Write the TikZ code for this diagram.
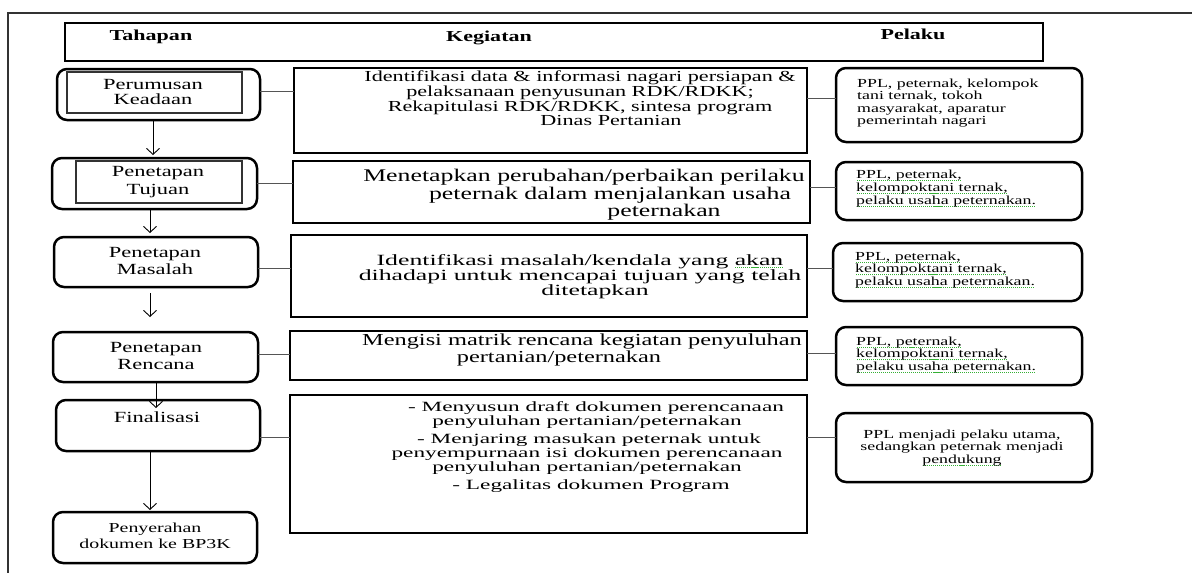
\documentclass[tikz,border=0pt]{standalone}
\usepackage{fontspec}
\setmainfont{Liberation Serif}[FakeStretch=1.45]
\newfontfamily\widefont{Liberation Serif}[FakeStretch=1.65]
\usetikzlibrary{arrows.meta,calc}
\definecolor{spellgreen}{HTML}{35B035}
\definecolor{framegray}{HTML}{333333}
\definecolor{conngray}{HTML}{555555}
\newcommand\gdot[1]{\setbox0\hbox{#1}\rlap{\color{spellgreen}\raisebox{-2.4pt}{\hbox to\wd0{\xleaders\hbox to 2pt{\hss\rule{1.1pt}{1.1pt}\hss}\hfill}}}\box0}
\newcommand\fs[2]{\fontsize{#1}{#2}\selectfont}
\begin{document}
\begin{tikzpicture}[x=1pt,y=-1pt,
  sqbox/.style={draw,inner sep=0pt,outer sep=0pt,line width=2.7pt},
  rbox/.style={draw,inner sep=0pt,outer sep=0pt,line width=2.5pt,rounded corners=10pt},
  inbox/.style={draw,inner sep=0pt,outer sep=0pt,line width=1.1pt,draw=black!80},
  txt/.style={inner sep=0pt,align=center},
  rtxt/.style={inner sep=0pt,align=left,anchor=west},
  conn/.style={draw=conngray,line width=1pt},
  arr/.style={draw=black,line width=0.9pt,-{Straight Barb[length=6pt,width=13pt,line width=0.9pt]}},
  frame/.style={draw=framegray,line width=1.5pt}]
\useasboundingbox (0,0) rectangle (1192,573);
\fill[white] (0,0) rectangle (1192,573);
% outer frame
\draw[frame] (1192,13) -- (8,13) -- (8,573);

% header
\node[sqbox,minimum width=978pt,minimum height=38pt] (H) at (554,42) {};
\node[txt,font=\fs{15.2}{16}\bfseries] (Ht) at (151,37) {Tahapan};
\node[txt,font=\fs{15.2}{16}\bfseries] (Hk) at (489,38) {Kegiatan};
\node[txt,font=\fs{15.2}{16}\bfseries] (Hp) at (913,34) {Pelaku};

% left column
\node[rbox,minimum width=203pt,minimum height=51pt] (L1) at (158.5,94.5) {};
\node[inbox,minimum width=175pt,minimum height=41pt] (L1i) at (154.5,92.5) {};
\node[txt,font=\fs{15.5}{15}] (L1t) at (153,92) {Perumusan\\Keadaan};

\node[rbox,minimum width=205pt,minimum height=51pt] (L2) at (154.5,183.5) {};
\node[inbox,minimum width=166pt,minimum height=42pt] (L2i) at (159,182) {};
\node[txt,font=\fs{15.5}{18}] (L2t) at (158,182.5) {Penetapan\\Tujuan};

\node[rbox,minimum width=204pt,minimum height=50pt] (L3) at (156,262) {};
\node[txt,font=\fs{15.5}{17}] (L3t) at (155,261) {Penetapan\\Masalah};

\node[rbox,minimum width=205pt,minimum height=50pt] (L4) at (155.5,357) {};
\node[txt,font=\fs{15.5}{17}] (L4t) at (156,356) {Penetapan\\Rencana};

\node[rbox,minimum width=204pt,minimum height=51pt] (L5) at (158,425.5) {};
\node[txt,font=\fs{15.5}{16}] (L5t) at (157,417) {Finalisasi};

\node[rbox,minimum width=204pt,minimum height=51pt] (L6) at (155,537.5) {};
\node[txt,font=\fs{13.7}{16}] (L6t) at (155,535.5) {Penyerahan\\dokumen ke BP3K};

% middle column
\node[sqbox,minimum width=513pt,minimum height=85pt] (M1) at (550.5,110.5) {};
\node[txt,font=\fs{15.3}{12.8}] (M1t) at (580,98) {Identifikasi data \& informasi nagari persiapan \&\\
pelaksanaan penyusunan RDK/RDKK;\hspace*{52pt}\\
Rekapitulasi RDK/RDKK, sintesa program\hspace*{10pt}\\
\hspace*{62pt}Dinas Pertanian};

\node[sqbox,minimum width=517pt,minimum height=62pt] (M2) at (551.5,192) {};
\node[txt,font=\fs{17.8}{17.5}] (M2t) at (584,195) {Menetapkan perubahan/perbaikan perilaku\\
\hspace*{52pt}peternak dalam menjalankan usaha\\
\hspace*{160pt}peternakan};

\node[sqbox,minimum width=516pt,minimum height=82pt] (M3) at (549,276) {};
\node[txt,font=\widefont\fs{15.6}{15}] (M3t) at (580,276.5) {Identifikasi masalah/kendala yang \gdot{akan}\\
dihadapi untuk mencapai tujuan yang telah\\
\hspace*{30pt}ditetapkan};

\node[sqbox,minimum width=517pt,minimum height=49pt] (M4) at (548.5,355.5) {};
\node[txt,font=\fs{16.8}{17}] (M4t) at (582,350) {Mengisi matrik rencana kegiatan penyuluhan\\
pertanian/peternakan\hspace*{46pt}};

\node[sqbox,minimum width=517pt,minimum height=138pt] (M5) at (548.5,464) {};
\node[txt,font=\widefont\fs{14.1}{12.3}] (M5t) at (587,447) {\hspace*{18pt}- Menyusun draft dokumen perencanaan\\
penyuluhan pertanian/peternakan\\[4pt]
\hspace*{4pt}- Menjaring masukan peternak untuk\\
penyempurnaan isi dokumen perencanaan\\
penyuluhan pertanian/peternakan\\[4pt]
\hspace*{8pt}- Legalitas dokumen Program};

% right column
\node[rbox,minimum width=246pt,minimum height=74pt] (R1) at (959,105) {};
\node[rtxt,font=\fs{12.3}{12.6}] (R1t) at (857,103) {PPL, peternak, kelompok\\tani ternak, tokoh\\masyarakat, aparatur\\pemerintah nagari};

\node[rbox,minimum width=246pt,minimum height=58pt] (R2) at (959,191) {};
\node[rtxt,font=\fs{12.3}{13}] (R2t) at (856,188.5) {\gdot{PPL, peternak,}\\\gdot{kelompoktani ternak,}\\\gdot{pelaku usaha peternakan.}};

\node[rbox,minimum width=249pt,minimum height=58pt] (R3) at (957.5,272) {};
\node[rtxt,font=\fs{12.3}{12.5}] (R3t) at (855,270) {\gdot{PPL, peternak,}\\\gdot{kelompoktani ternak,}\\\gdot{pelaku usaha peternakan.}};

\node[rbox,minimum width=246pt,minimum height=58pt] (R4) at (959,356) {};
\node[rtxt,font=\fs{12.3}{12.5}] (R4t) at (856,355) {\gdot{PPL, peternak,}\\\gdot{kelompoktani ternak,}\\\gdot{pelaku usaha peternakan.}};

\node[rbox,minimum width=256pt,minimum height=69pt] (R5) at (964,447.5) {};
\node[txt,font=\fs{12.3}{12.5}] (R5t) at (962,448) {PPL menjadi pelaku utama,\\sedangkan peternak menjadi\\\gdot{pendukung}};

% connectors left -> middle
\draw[conn] ([yshift=3.5pt]L1.east) -- ([yshift=3.5pt]L1.east -| M1.west);
\draw[conn] (L2.east) -- (L2.east -| M2.west);
\draw[conn] ([yshift=-6pt]L3.east) -- ([yshift=-6pt]L3.east -| M3.west);
\draw[conn] ([yshift=3pt]L4.east) -- ([yshift=3pt]L4.east -| M4.west);
\draw[conn] ([yshift=-11.5pt]L5.east) -- ([yshift=-11.5pt]L5.east -| M5.west);

% connectors middle -> right
\draw[conn] ([yshift=7pt]R1.west -| M1.east) -- ([yshift=7pt]R1.west);
\draw[conn] ([yshift=4pt]R2.west -| M2.east) -- ([yshift=4pt]R2.west);
\draw[conn] ([yshift=4pt]R3.west -| M3.east) -- ([yshift=4pt]R3.west);
\draw[conn] ([yshift=3pt]R4.west -| M4.east) -- ([yshift=3pt]R4.west);
\draw[conn] ([yshift=10.5pt]R5.west -| M5.east) -- ([yshift=10.5pt]R5.west);

% arrows between stages
\draw[arr,shorten >=3pt] ([xshift=-5.5pt]L1.south) -- ([xshift=-5.5pt]L1.south |- L2.north);
\draw[arr,shorten >=4pt] ([xshift=-4.5pt]L2.south) -- ([xshift=-4.5pt]L2.south |- L3.north);
\draw[arr,shorten <=6pt,shorten >=15pt] ([xshift=-6pt]L3.south) -- ([xshift=-6pt]L3.south |- L4.north);
\draw[arr,shorten >=-8pt] ([xshift=0.5pt]L4.south) -- ([xshift=0.5pt]L4.south |- L5.north);
\draw[arr,shorten >=2pt] ([xshift=-8pt]L5.south) -- ([xshift=-8pt]L5.south |- L6.north);
\end{tikzpicture}
\end{document}
